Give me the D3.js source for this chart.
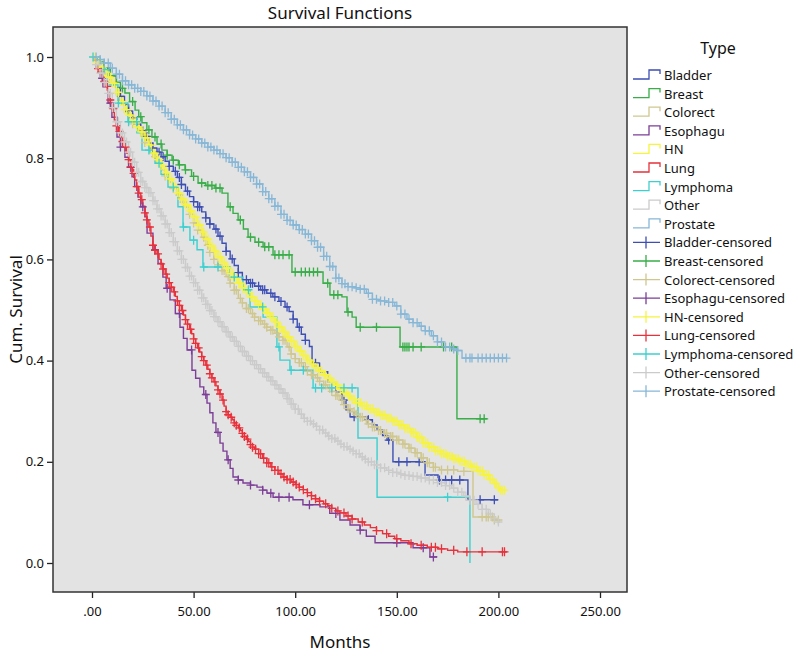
<!DOCTYPE html>
<meta charset="utf-8">
<script src="https://d3js.org/d3.v7.min.js"></script>
<style>
  body { margin: 0; background: #fff; }
  text { font-family: "Noto Sans", sans-serif; fill: #111; }
</style>
<div id="chart"></div>
<script>

// group names and colours, same order as the legend
var types = ["Bladder", "Breast", "Colorect", "Esophagu", "HN", "Lung", "Lymphoma", "Other", "Prostate"];
var colors = ["#3d4fb4", "#38ad48", "#cfc78e", "#7c3e96", "#f6f43e", "#e8313b", "#3ecfcf", "#cbcbcb", "#87b7d7"];

var xTicks = [0, 50, 100, 150, 200, 250];
var xTickLabels = [".00", "50.00", "100.00", "150.00", "200.00", "250.00"];
var yTicks = [0, 0.2, 0.4, 0.6, 0.8, 1.0];
var yTickLabels = ["0.0", "0.2", "0.4", "0.6", "0.8", "1.0"];

// Kaplan-Meier steps: [months, cum. survival]
var bladderSteps = [[0,1],[3,.99],[6,.978],[9,.962],[12,.94],[14,.922],[16,.905],[18,.893],[20,.88],[22,.867],[24,.854],[26,.843],[28,.83],[30,.82],[32,.812],[34,.803],[36,.794],[38,.784],[40,.774],[42,.762],[44,.748],[46,.735],[48,.724],[50,.714],[52,.704],[54,.694],[56,.682],[58,.67],[60,.66],[62,.646],[64,.632],[66,.616],[68,.601],[70,.588],[72,.574],[74,.56],[77,.553],[80,.547],[83,.54],[86,.533],[89,.526],[92,.517],[95,.506],[97,.497],[99,.482],[101,.466],[103,.452],[105,.44],[107,.428],[108.3,.395],[112,.378],[116,.358],[120,.338],[123,.322],[125,.303],[127,.289],[135.3,.283],[138,.273],[140.3,.263],[143,.252],[145.2,.243],[148.1,.2],[163.9,.174],[170.3,.164],[185,.125],[199.8,.125]];
var breastSteps = [[0,1],[3,.99],[6,.978],[9,.963],[12,.95],[14,.938],[16.2,.929],[18.5,.912],[21.2,.895],[23,.882],[24.6,.87],[27,.856],[29.5,.842],[32,.828],[34.4,.816],[37,.806],[39.4,.796],[42.5,.787],[45.8,.777],[49,.764],[52.2,.751],[56,.746],[60.5,.741],[64,.731],[66.9,.704],[69.4,.691],[71.9,.678],[74.5,.66],[76.8,.644],[80.2,.634],[84.2,.625],[89.1,.609],[98.4,.575],[113.7,.553],[117.1,.53],[123,.526],[125.5,.496],[128,.486],[130,.466],[151.6,.427],[179.6,.285],[194.4,.285]];
var colorectSteps = [[0,1],[2,.99],[4,.978],[6,.966],[8,.955],[10,.944],[12,.925],[14,.907],[16,.891],[18,.88],[20,.868],[22,.856],[24,.844],[26,.831],[28,.818],[30,.803],[32,.79],[34,.777],[36,.765],[38,.753],[40,.74],[42,.727],[44,.713],[46,.703],[48,.689],[50,.672],[52,.658],[54,.644],[56,.628],[58,.614],[60,.6],[62,.589],[64,.578],[66,.566],[68,.553],[70,.539],[72,.523],[74,.514],[76,.503],[78,.493],[80,.486],[82,.479],[84,.472],[86,.466],[88,.46],[90,.454],[92,.447],[94,.44],[96,.427],[98,.413],[100,.404],[102,.396],[104,.388],[106,.379],[108,.372],[110,.366],[112,.359],[114,.352],[116,.345],[118,.339],[120,.331],[122,.322],[124,.313],[126,.305],[128,.299],[130,.294],[132,.288],[134,.282],[136,.275],[138,.269],[141,.262],[144,.256],[147,.25],[150,.243],[153,.235],[156,.227],[159,.218],[162,.208],[165,.198],[168,.189],[171,.184],[180,.181],[187.5,.091],[197.3,.085],[200.8,.085]];
var esophaguSteps = [[0,1],[2,.98],[4,.958],[5.4,.941],[7.9,.909],[9.8,.881],[12.3,.842],[14,.822],[16.2,.802],[18,.782],[19.7,.763],[21,.744],[22.6,.723],[24,.704],[26.1,.684],[27.1,.652],[30,.619],[32.5,.592],[34.9,.565],[36.5,.543],[38.4,.52],[41,.493],[43.3,.466],[45,.444],[46.8,.421],[49.2,.381],[51,.365],[53.1,.348],[55,.333],[56.6,.316],[58,.297],[59.5,.277],[61,.258],[63,.237],[64.5,.221],[66.4,.204],[68,.187],[69.4,.17],[72,.164],[74.3,.158],[78,.154],[81.2,.15],[84,.144],[86.1,.138],[89.1,.13],[98.9,.125],[103.8,.115],[112.2,.111],[117,.098],[122,.085],[127,.075],[131.9,.065],[135,.053],[139.3,.04],[158,.03],[166.3,.012],[169.8,.012]];
var hnSteps = [[0,1],[2,.99],[4,.98],[6,.97],[8,.96],[10,.948],[12,.93],[14,.912],[16,.896],[18,.885],[20,.874],[22,.862],[24,.852],[26,.84],[28,.826],[30,.81],[32,.797],[34,.785],[36,.772],[38,.759],[40,.745],[42,.732],[44,.719],[46,.708],[48,.696],[50,.683],[52,.668],[54,.654],[56,.64],[58,.627],[60,.616],[62,.605],[64,.594],[66,.583],[68,.572],[70,.562],[72,.553],[74,.544],[76,.535],[78,.526],[80,.518],[82,.51],[84,.502],[86,.494],[88,.485],[90,.476],[92,.466],[94,.457],[96,.447],[98,.438],[100,.428],[102,.419],[104,.41],[106,.401],[108,.393],[110,.386],[112,.379],[114,.372],[116,.365],[118,.358],[120,.351],[122,.344],[124,.337],[126,.33],[128,.323],[130,.317],[133,.311],[136,.305],[139,.298],[142,.292],[145,.286],[148,.28],[151,.273],[154,.266],[157,.258],[160,.248],[163,.237],[166,.229],[169,.222],[172,.216],[175,.211],[178,.206],[181,.201],[184,.195],[187,.189],[190,.182],[193,.174],[196,.165],[198,.157],[200,.148],[201,.144],[203.2,.144]];
var lungSteps = [[0,1],[1,.993],[2,.985],[3,.977],[4,.97],[5,.962],[6,.952],[7,.942],[8,.93],[9,.915],[10,.898],[11,.876],[12,.864],[13,.853],[14,.842],[15,.833],[16,.822],[17,.81],[18,.797],[19,.783],[20,.77],[21,.757],[22,.744],[23,.731],[24,.718],[25,.705],[26,.692],[27,.678],[28,.664],[29,.646],[30,.628],[31,.618],[32,.611],[33,.6],[34,.591],[35,.581],[36,.571],[37,.563],[38,.554],[39,.545],[40,.536],[41,.527],[42,.518],[43,.509],[44,.499],[45,.49],[46,.481],[47,.472],[48,.462],[49,.453],[50,.443],[51,.434],[52,.425],[53,.417],[54,.408],[55,.4],[56,.391],[57,.383],[58,.374],[59,.366],[60,.358],[61,.35],[62,.342],[63,.334],[64,.322],[65,.31],[66,.299],[67,.293],[68,.288],[69,.283],[70,.277],[71,.272],[72,.267],[73,.262],[74,.256],[75,.25],[76,.245],[77,.24],[78,.234],[79,.229],[80,.225],[82,.216],[84,.207],[86,.198],[88,.19],[90,.183],[92,.176],[94,.17],[96,.165],[98,.16],[100,.155],[102,.15],[104,.145],[106,.139],[108,.133],[110,.127],[112,.122],[114,.117],[116,.113],[118,.108],[120,.103],[122,.099],[125,.093],[128,.087],[131,.081],[134,.075],[137,.07],[140,.064],[143,.058],[146,.053],[149,.048],[152,.044],[156,.038],[160,.035],[165,.031],[170,.028],[175,.025],[180,.022],[204.2,.022]];
var lymphomaSteps = [[0,1],[4,.975],[8,.945],[12.8,.909],[17.7,.872],[22.1,.85],[24.6,.816],[28.5,.81],[31,.79],[34,.768],[37.4,.743],[42.3,.704],[44.8,.664],[48.2,.638],[51.7,.619],[54.6,.585],[67.9,.565],[74.3,.54],[77.8,.506],[84.2,.486],[91,.427],[92.5,.401],[97.4,.381],[108.8,.346],[130.9,.247],[140.3,.13],[186,0]];
var otherSteps = [[0,1],[2,.985],[4,.968],[6,.95],[8,.928],[10,.9],[12,.872],[14,.85],[16,.832],[18,.812],[20,.792],[22,.772],[24,.754],[26,.742],[28,.732],[30,.716],[32,.7],[34,.686],[36,.67],[38,.653],[40,.635],[42,.617],[44,.6],[46,.584],[48,.567],[50,.554],[52,.539],[54,.524],[56,.511],[58,.499],[60,.487],[62,.477],[64,.467],[66,.457],[68,.447],[70,.438],[72,.428],[74,.418],[76,.409],[78,.4],[80,.392],[82,.384],[84,.376],[86,.368],[88,.36],[90,.352],[92,.344],[94,.336],[96,.325],[98,.314],[100,.304],[102,.294],[104,.286],[106,.28],[108,.275],[110,.27],[112,.263],[114,.257],[116,.251],[118,.246],[120,.241],[122,.235],[124,.23],[126,.225],[128,.221],[130,.216],[132,.21],[134,.205],[136,.2],[139,.194],[142,.188],[145,.183],[148,.179],[151,.176],[154,.173],[158,.171],[162,.168],[166,.164],[170,.159],[174,.153],[177,.148],[180,.14],[183,.132],[186,.124],[189,.116],[192,.106],[195,.097],[198,.088],[200,.081],[200.8,.081]];
var prostateSteps = [[0,1],[3,.995],[6,.988],[9,.978],[12,.966],[15,.953],[18,.945],[21,.938],[24,.932],[27,.923],[30,.913],[33,.903],[36,.89],[39,.877],[42,.866],[45,.856],[48,.846],[51,.838],[54,.83],[57,.822],[60,.816],[63,.809],[66,.801],[69,.792],[72,.782],[75,.773],[78,.762],[81,.749],[84,.734],[87,.72],[90,.705],[93,.689],[96,.677],[99,.668],[102,.659],[105,.65],[108,.637],[111,.624],[114,.606],[117,.586],[120,.563],[123,.552],[126,.546],[129,.544],[132,.541],[135,.533],[138,.521],[141,.518],[145,.515],[149,.508],[152,.492],[155,.482],[158,.475],[161,.468],[164,.459],[167,.449],[170,.437],[173,.427],[177,.423],[180,.42],[182.1,.405],[204.2,.405]];

// censored cases, months
var bladderCens = [14,18,20,22,25,27,30,33,35,38,41,43,44,47,50,52,53,56,58,61,63,66,69,72,76,78,79,82,84,85,88,90,93,96,99,102,105,110,124,129,136,146,151,155,161,171,174,177,181,191,198];
var breastCens = [15,20,24,28,31,34,37,40,43,46,50,54,57,59,61,63,68,73,78,82,85,87,90,92,94,97,100,103,105,107,109,111,116,119,121,126,132,140,153,154,155,156,158,162,173,177,191,193];
var colorectCens = [20,26,31,36,40,43,45,48,50,52,55,57,58,60,62,64,65,67,68,70,71,73,74,76,77,79,80,82,83,85,86,88,89,91,92,94,95,97,98,100,102,103,105,106,108,109,111,112,114,115,117,118,120,121,123,124,126,127,129,130,132,133,135,136,138,139,141,142,144,145,147,148,150,151,153,154,156,157,159,160,162,163,165,166,168,169,172,175,178,183,192,194,195,197,198,200];
var esophaguCens = [5,9,14,19,25,31,37,43,49,56,62,67,72,78,84,88,92,97,107,120,132,150,163,168];
var hnCens = [1,2.1,3.2,4,5.1,6.2,7,8.1,9.2,10,11.1,12.2,13,14.1,15.2,16,17.1,18.2,19,20.1,21.2,22,23.1,24.2,25,26.1,27.2,28,29.1,30.2,31,32.1,33.2,34,35.1,36.2,37,38.1,39.2,40,41.1,42.2,43,44.1,45.2,46,47.1,48.2,49,50.1,51.2,52,53.1,54.2,55,56.1,57.2,58,59.1,60.2,61,62.1,63.2,64,65.1,66.2,67,68.1,69.2,70,71.1,72.2,73,74.1,75.2,76,77.1,78.2,79,80.1,81.2,82,83.1,84.2,85,86.1,87.2,88,89.1,90.2,91,92.1,93.2,94,95.1,96.2,97,98.1,99.2,100,101.1,102.2,103,104.1,105.2,106,107.1,108.2,109,110.1,111.2,112,113.1,114.2,115,116.1,117.2,118,119.1,120.2,121,122.1,123.2,124,125.1,126.2,127,128.1,129.2,130,131.1,132.2,133,134.1,135.2,136,137.1,138.2,139,140.1,141.2,142,143.1,144.2,145,146.1,147.2,148,149.1,150.2,151,152.1,153.2,154,155.1,156.2,157,158.1,159.2,160,161.1,162.2,163,164.1,165.2,166,167.1,168.2,169,170.1,171.2,172,173.1,174.2,175,176.1,177.2,178,179.1,180.2,181,182.1,183.2,184,185.1,186.2,187,188.1,189.2,190,191.1,192.2,193,194.1,195.2,196,197.1,198.2,199,200.1,201.2,202,203];
var lungCens = [3,4.5,6,7.5,9,10.5,12,13.5,15,16.5,18,19,20.5,22,23,24.5,26,27,28.5,30,31,32.5,34,35,36.5,38,39,40.5,42,43,44.5,46,47,48.5,50,51,52.5,54,55,56.5,58,59,60.5,62,63,64.5,66,67,68.5,70,71,72.5,74,75,76.5,78,79,80.5,82,83,84.5,86,87,88.5,90,91.5,93,94.5,96,97.5,99,100.5,102,104,106,108,110,112,115,118,121,124,126,128,133,140,145,150,157,162,167,169,172,178,184.5,192,202,203];
var lymphomaCens = [0.5,6,13,18,22,28,33,40,45,50,55,62,70,77,84,92,98,104,110,113,118,124,128,175];
var otherCens = [2,3,4,5,6,7,8,9,10,11,12,13,14,15,16,17,18,19,20,21,22,23,24,25,26,27,28,29,30,31,32,33,34,35,36,37,38,39,40,41,42,43,44,45,46,47,48,49,50,51,52,53,54,55,56,57,58,59,60,61,62,63,64,65,66,67,68,69,70,71,72,73,74,75,76,77,78,79,80,81,82,83,84,85,86,87,88,89,90,91,92,93,94,95,96,97,98,99,100,101.5,103,104.5,106,107.5,109,110.5,112,113.5,115,116.5,118,119.5,121,122.5,124,125.5,127,128.5,130,131.5,133,134.5,136,137.5,139,140.5,142,144,146,148,150,152,154,156,158,160,162,164,166,168,170,172,174,176,178,180,182,184,186,188,190,192,194,196,198,200];
var prostateCens = [2,4,6,8,10,12,13.5,15,16.5,18,19.5,21,22.5,24,25.5,27,28.5,30,31.5,33,34.5,36,37.5,39,40.5,42,43.5,45,46.5,48,49.5,51,52.5,54,55.5,57,58.5,60,61.5,63,64.5,66,67.5,69,70.5,72,73.5,75,76.5,78,79.5,81,82.5,84,85.5,87,88.5,90,91.5,93,94.5,96,97.5,99,100.5,102,103.5,105,106.5,108,109.5,111,112.5,114,115.5,117,118.5,120,121.5,123,124.5,126,128,130,132,134,136,138,140,142,144,146,148,150,152,154,156,158,160,162,164,166,168,170,172,174,176,178,180,184,186,187,190,192,194,196,198,200,202,204];

var steps = [bladderSteps, breastSteps, colorectSteps, esophaguSteps, hnSteps, lungSteps, lymphomaSteps, otherSteps, prostateSteps];
var cens = [bladderCens, breastCens, colorectCens, esophaguCens, hnCens, lungCens, lymphomaCens, otherCens, prostateCens];

var width = 800, height = 655;
var plot = {left: 53, top: 27, right: 627, bottom: 592};

var svg = d3.select("#chart")
  .append("svg")
    .attr("width", width)
    .attr("height", height);

var x = d3.scaleLinear().domain([0, 250]).range([92, 600]);
var y = d3.scaleLinear().domain([0, 1]).range([563, 57]);

// plot background
svg.append("rect")
  .attr("x", plot.left).attr("y", plot.top)
  .attr("width", plot.right - plot.left).attr("height", plot.bottom - plot.top)
  .attr("fill", "#e3e3e3");

// axes
var xAxis = svg.append("g")
  .attr("transform", "translate(0," + plot.bottom + ")")
  .call(d3.axisBottom(x).tickValues(xTicks).tickSize(6).tickSizeOuter(0)
    .tickFormat(function(d, i) { return xTickLabels[i]; }));
var yAxis = svg.append("g")
  .attr("transform", "translate(" + plot.left + ",0)")
  .call(d3.axisLeft(y).tickValues(yTicks).tickSize(6).tickSizeOuter(0)
    .tickFormat(function(d, i) { return yTickLabels[i]; }));
[xAxis, yAxis].forEach(function(a) {
  a.select(".domain").remove();
  a.selectAll("line").attr("stroke", "#222").attr("stroke-width", 1.3);
  a.selectAll("text").style("font-size", "13px").style("font-family", "'Noto Sans', sans-serif").attr("fill", "#111");
});
xAxis.selectAll("text").attr("dy", "1.15em");

// step lines first, then all the censor marks
var line = d3.line()
  .x(function(d) { return x(d[0]); })
  .y(function(d) { return y(d[1]); })
  .curve(d3.curveStepAfter);

var curves = svg.append("g");
steps.forEach(function(s, i) {
  curves.append("path")
    .attr("d", line(s))
    .attr("fill", "none")
    .attr("stroke", colors[i])
    .attr("stroke-width", 1.4);
});

// value of a step curve at time t (where a censor mark sits)
function survAt(s, t) {
  var v = s[0][1];
  for (var k = 0; k < s.length; k++) { if (s[k][0] <= t) v = s[k][1]; }
  return v;
}

var marks = svg.append("g");
cens.forEach(function(c, i) {
  marks.selectAll(null)
    .data(c)
    .enter()
    .append("path")
      .attr("d", function(t) {
        var px = x(t), py = y(survAt(steps[i], t));
        return "M" + (px - 4) + "," + py + "H" + (px + 4) + "M" + px + "," + (py - 4.5) + "V" + (py + 4.5);
      })
      .attr("stroke", colors[i])
      .attr("stroke-width", 1.3)
      .attr("fill", "none");
});

// frame
svg.append("rect")
  .attr("x", plot.left).attr("y", plot.top)
  .attr("width", plot.right - plot.left).attr("height", plot.bottom - plot.top)
  .attr("fill", "none")
  .attr("stroke", "#333")
  .attr("stroke-width", 1.5);

// titles
svg.append("text")
  .attr("x", (plot.left + plot.right) / 2).attr("y", 19)
  .attr("text-anchor", "middle")
  .style("font-size", "17px")
  .text("Survival Functions");
svg.append("text")
  .attr("x", (plot.left + plot.right) / 2).attr("y", 648)
  .attr("text-anchor", "middle")
  .style("font-size", "17px")
  .text("Months");
svg.append("text")
  .attr("transform", "translate(22," + (plot.top + plot.bottom) / 2 + ")rotate(-90)")
  .attr("text-anchor", "middle")
  .style("font-size", "17px")
  .text("Cum. Survival");

// legend
var legend = svg.append("g");
legend.append("text")
  .attr("x", 718).attr("y", 54)
  .attr("text-anchor", "middle")
  .style("font-size", "16px")
  .text("Type");

var legendItems = types.map(function(t, i) { return {name: t, color: colors[i], cens: false}; })
  .concat(types.map(function(t, i) { return {name: t + "-censored", color: colors[i], cens: true}; }));

legendItems.forEach(function(d, i) {
  var cy = 75 + i * 18.6;
  var g = legend.append("g");
  if (d.cens) {
    g.append("path")
      .attr("d", "M633," + cy + "H660M646," + (cy - 6) + "V" + (cy + 6))
      .attr("stroke", d.color).attr("stroke-width", 1.3).attr("fill", "none");
  } else {
    g.append("path")
      .attr("d", "M633," + (cy + 4) + "H649V" + (cy - 5) + "H660V" + (cy - 1))
      .attr("stroke", d.color).attr("stroke-width", 1.3).attr("fill", "none");
  }
  g.append("text")
    .attr("x", 664).attr("y", cy + 5)
    .style("font-size", "13px")
    .text(d.name);
});

</script>
